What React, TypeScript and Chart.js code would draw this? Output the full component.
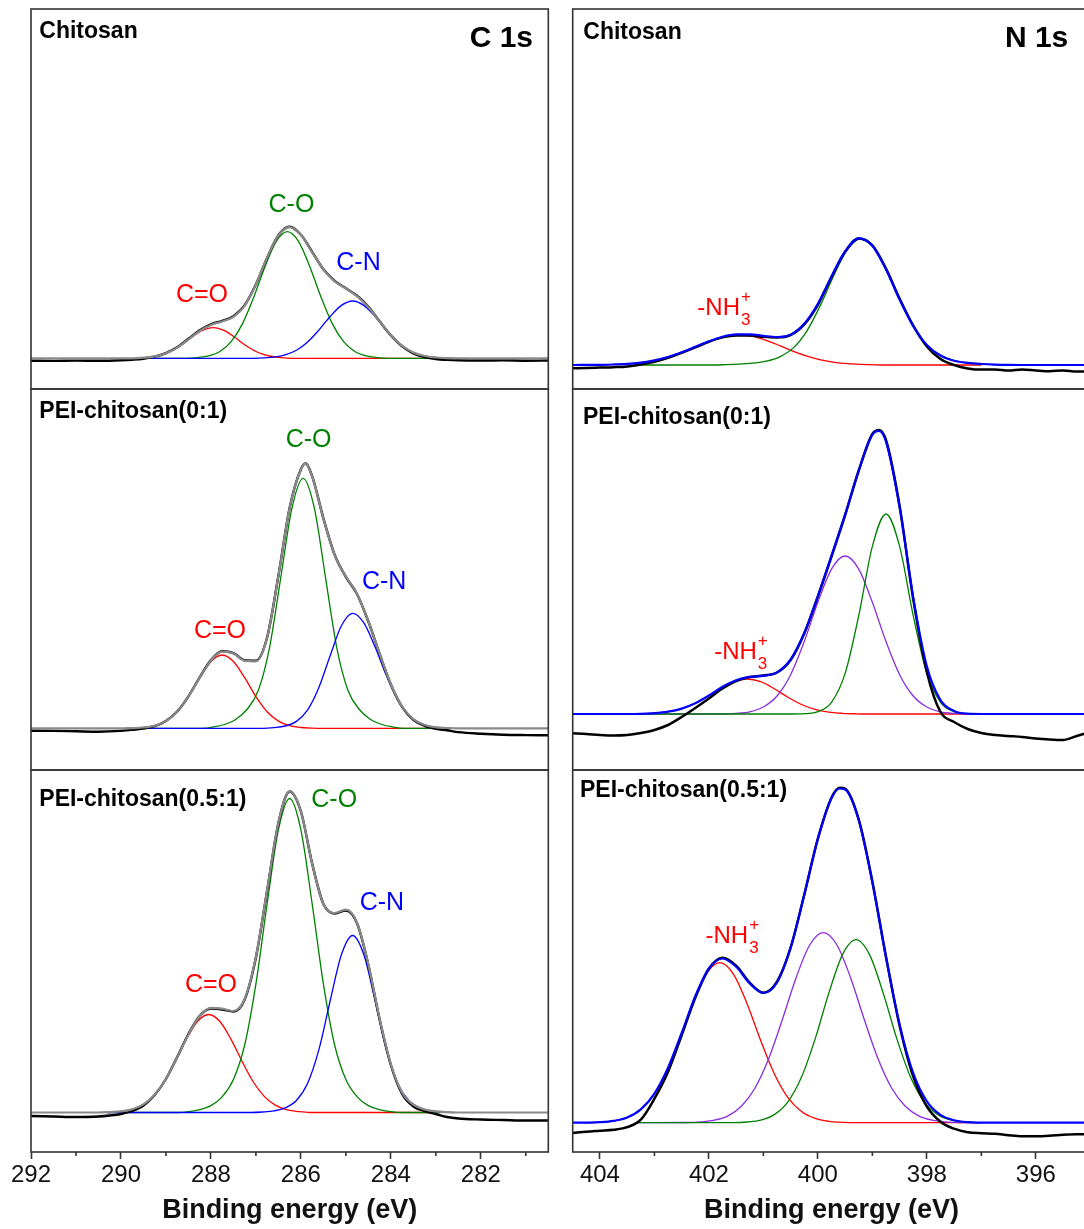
import React, { useEffect, useRef } from 'react';
import { Chart, registerables } from 'chart.js';

Chart.register(...registerables);

type P = [number, number][];

const FONT = '"Liberation Sans", Arial, Helvetica, sans-serif';

// ---------- axis ticks ----------
const cMinorTicks = [291, 289, 287, 285, 283, 281];
const nMinorTicks = [403, 401, 399, 397, 395];

// ---------- C 1s : Chitosan ----------
const c1CdO: P = [[289.6,0],[289.45,0.7],[289.2,2.3],[288.95,5.8],[288.7,12.1],[288.45,20.3],[288.2,27.6],[287.95,30.6],[287.7,27.6],[287.45,20.3],[287.2,12.1],[286.95,5.8],[286.7,2.3],[286.45,0.7],[286.2,0],[282.9,0]];
const c1CO: P = [[289.6,0],[288.55,0],[288.3,0.7],[288.05,2.4],[287.8,6.8],[287.55,16.6],[287.3,34.4],[287.05,60.9],[286.8,91.4],[286.55,116.7],[286.3,126.6],[286.05,116.7],[285.8,91.4],[285.55,60.9],[285.3,34.4],[285.05,16.6],[284.8,6.8],[284.55,2.4],[284.3,0.7],[284.05,0],[282.9,0]];
const c1CN: P = [[289.6,0],[287.1,0],[286.85,0.4],[286.6,1.2],[286.35,3.4],[286.1,8.0],[285.85,16.3],[285.6,28.2],[285.35,41.8],[285.1,52.9],[284.85,57.3],[284.6,52.9],[284.35,41.8],[284.1,28.2],[283.85,16.3],[283.6,8.0],[283.35,3.4],[283.1,1.2],[282.85,0.4],[282.6,0]];
const c1Fit: P = [[292,0],[289.75,0],[289.5,0.6],[289.25,1.9],[289.0,5.0],[288.75,10.7],[288.5,18.8],[288.25,27.3],[288.0,33.4],[287.75,36.8],[287.5,41.4],[287.25,52.7],[287.0,74.1],[286.75,100.7],[286.5,123.0],[286.25,131.3],[286.0,123.5],[285.75,106.0],[285.5,88.8],[285.25,77.0],[285.0,69.8],[284.75,62.2],[284.5,51.0],[284.25,36.9],[284.0,23.2],[283.75,12.5],[283.5,5.8],[283.25,2.3],[283.0,0.8],[282.75,0.2],[282.5,0],[280.5,0]];
const c1Raw: P = [[292,-2.4],[291.5,-2.6],[291,-2.3],[290.5,-2.5],[290,-2],[289.75,-1.4],[289.5,-0.4],[289.25,1.6],[289.0,5.2],[288.75,11],[288.5,19.5],[288.25,28],[288.0,34],[287.75,37.5],[287.5,42],[287.25,53],[287.0,74],[286.75,100.5],[286.5,123],[286.25,131.5],[286.0,123.5],[285.75,106.5],[285.5,89],[285.25,77.5],[285.0,70],[284.75,62.5],[284.5,51.5],[284.25,37],[284.0,23],[283.75,12],[283.5,5],[283.25,1.2],[283.0,-0.8],[282.75,-1.6],[282.5,-2],[282,-2.2],[281.5,-2.1],[281,-2.4],[280.5,-2.2]];

// ---------- C 1s : PEI-chitosan(0:1) ----------
const c2CdO: P = [[289.9,0],[289.75,0.3],[289.5,0.8],[289.25,2.6],[289.0,7.2],[288.75,16.6],[288.5,31.7],[288.25,50.6],[288.0,66.8],[287.75,73.3],[287.5,66.8],[287.25,50.6],[287.0,31.7],[286.75,16.6],[286.5,7.2],[286.25,2.6],[286.0,0.8],[285.75,0.2],[285.5,0],[283.0,0]];
const c2CO: P = [[289.9,0],[288.2,0],[287.95,1.3],[287.7,3.8],[287.45,8.8],[287.2,18.8],[286.95,37.5],[286.7,80],[286.45,150],[286.2,220],[285.95,250],[285.7,220],[285.45,150],[285.2,80],[284.95,37.5],[284.7,18.8],[284.45,8.8],[284.2,3.8],[283.95,1.3],[283.7,0],[283.0,0]];
const c2CN: P = [[289.9,0],[286.85,0],[286.6,0.7],[286.35,2.3],[286.1,6.9],[285.85,18.4],[285.6,40.8],[285.35,72.5],[285.1,102.5],[284.85,115],[284.6,105.5],[284.35,81.3],[284.1,52.7],[283.85,28.6],[283.6,13.1],[283.35,5.1],[283.1,1.6],[282.85,0.5],[282.6,0]];
const c2Fit: P = [[292,0],[290,0],[289.75,0.2],[289.5,0.8],[289.25,2.6],[289.0,7.2],[288.75,16.6],[288.5,31.8],[288.25,50.6],[288.0,67.9],[287.75,76.6],[287.5,74.8],[287.25,67.6],[287.0,66.9],[286.75,90.8],[286.5,152.4],[286.25,220.2],[286.0,258.8],[285.9,264.6],[285.75,251.9],[285.5,209.7],[285.25,173.5],[285.0,151.8],[284.75,134.4],[284.5,107.0],[284.25,74.6],[284.0,44.0],[283.75,21.8],[283.5,9.2],[283.25,3.3],[283.0,1.0],[282.75,0.3],[282.5,0],[280.5,0]];
const c2Raw: P = [[292,-2.4],[291.5,-2.6],[291,-3],[290.5,-3.4],[290,-2.6],[289.75,-1.6],[289.5,-0.2],[289.25,2.2],[289.0,7.4],[288.75,16.8],[288.5,32],[288.25,51],[288.0,68.2],[287.75,77],[287.5,75.2],[287.25,68],[287.0,67.5],[286.75,91],[286.5,152.5],[286.25,220.5],[286.0,259],[285.9,264.8],[285.75,252.2],[285.5,210],[285.25,173.5],[285.0,151.5],[284.75,134],[284.5,106.8],[284.25,74.4],[284.0,43.8],[283.75,21.4],[283.5,8.5],[283.25,2.5],[283.0,-0.5],[282.75,-2],[282.5,-3.8],[282,-5.4],[281.5,-6.4],[281,-6.8],[280.5,-7]];

// ---------- C 1s : PEI-chitosan(0.5:1) ----------
const c3CdO: P = [[290.3,0],[290.05,0.9],[289.8,2.6],[289.55,6.9],[289.3,15.4],[289.05,30.0],[288.8,50.4],[288.55,72.9],[288.3,91.0],[288.05,98],[287.8,91.0],[287.55,72.9],[287.3,50.4],[287.05,30.0],[286.8,15.4],[286.55,6.9],[286.3,2.6],[286.05,0.9],[285.8,0],[282.9,0]];
const c3CO: P = [[290.3,0],[288.75,0],[288.5,0.9],[288.25,2.8],[288.0,6.9],[287.75,15.7],[287.5,33.0],[287.25,67.5],[287.0,128.7],[286.75,208.8],[286.5,282.6],[286.25,314],[286.0,282.6],[285.75,208.8],[285.5,128.7],[285.25,67.5],[285.0,33.0],[284.75,15.7],[284.5,6.9],[284.25,2.8],[284.0,0.9],[283.75,0],[282.9,0]];
const c3CN: P = [[290.3,0],[287.1,0],[286.85,0.5],[286.6,1.6],[286.35,4.6],[286.1,12.0],[285.85,29.2],[285.6,62.8],[285.35,111.5],[285.1,157.7],[284.85,177],[284.6,157.7],[284.35,111.5],[284.1,62.8],[283.85,29.2],[283.6,12.0],[283.35,4.6],[283.1,1.6],[282.85,0.5],[282.6,0]];
const c3Fit: P = [[292,0],[290.5,0],[290.25,0.5],[290.0,1.1],[289.75,3.2],[289.5,8.1],[289.25,17.8],[289.0,33.7],[288.75,55.2],[288.5,78.0],[288.25,96.3],[288.0,104.6],[287.75,103.8],[287.5,101.5],[287.25,113.5],[287.0,155.6],[286.75,222.6],[286.5,289.8],[286.25,321.1],[286.0,301.0],[285.75,248.8],[285.5,208.5],[285.25,199.5],[285.0,202.8],[284.75,189.5],[284.5,148.0],[284.25,93.8],[284.0,48.4],[283.75,19.9],[283.5,7.8],[283.25,3.0],[283.0,1.2],[282.75,0.4],[282.5,0],[280.5,0]];
const c3Raw: P = [[292,-3.5],[291.5,-4],[291,-4.5],[290.5,-4],[290.25,-3],[290.0,-1.5],[289.75,1.5],[289.5,7],[289.25,17.5],[289.0,33.5],[288.75,55.5],[288.5,78.5],[288.25,96.5],[288.0,104],[287.75,103],[287.5,101],[287.25,113],[287.0,155],[286.75,222],[286.5,289.5],[286.25,321],[286.0,301],[285.75,249],[285.5,208.5],[285.25,199],[285.0,202],[284.75,189],[284.5,147.5],[284.25,93],[284.0,47.5],[283.75,18.5],[283.5,6],[283.25,1.5],[283.0,-1.5],[282.75,-4.5],[282.5,-6],[282,-7],[281.5,-7.5],[281,-8],[280.5,-8]];

// ---------- N 1s : Chitosan ----------
const n1NH3: P = [[404.2,0],[403.95,0.2],[403.7,0.6],[403.45,1.3],[403.2,2.7],[402.95,5.2],[402.7,8.9],[402.45,13.7],[402.2,19.4],[401.95,24.7],[401.7,28.6],[401.45,30],[401.2,28.6],[400.95,24.7],[400.7,19.4],[400.45,13.7],[400.2,8.9],[399.95,5.2],[399.7,2.7],[399.45,1.3],[399.2,0.6],[398.95,0.2],[398.7,0],[397.0,0]];
const n1NH2: P = [[403.3,0],[401.95,0],[401.7,0.3],[401.45,0.8],[401.2,1.8],[400.95,3.8],[400.7,8.2],[400.45,17.1],[400.2,34.2],[399.95,60.1],[399.7,90.4],[399.45,116.4],[399.2,126.5],[398.95,116.4],[398.7,90.4],[398.45,60.1],[398.2,34.2],[397.95,17.1],[397.7,8.2],[397.45,3.8],[397.2,1.8],[396.95,0.8],[396.7,0.3],[396.45,0]];
const n1Fit: P = [[404.5,0],[404.0,0.2],[403.75,0.5],[403.5,1.1],[403.25,2.4],[403.0,4.6],[402.75,8.0],[402.5,12.7],[402.25,18.2],[402.0,23.7],[401.75,28.3],[401.5,30.6],[401.25,30.7],[401.0,29.1],[400.75,28.0],[400.5,30.3],[400.25,41.2],[400.0,61.3],[399.75,88.6],[399.5,113.5],[399.25,126.7],[399.0,119.3],[398.75,95.7],[398.5,65.5],[398.25,39.0],[398.0,20.0],[397.75,9.5],[397.5,4.3],[397.25,2.1],[397.0,1.0],[396.75,0.4],[396.5,0.1],[396.25,0],[395,0]];
const n1Raw: P = [[404.5,-3.3],[404.25,-3],[404.0,-2.6],[403.75,-2.2],[403.5,-1.4],[403.25,0.6],[403.0,3.2],[402.75,7.2],[402.5,12.2],[402.25,17.6],[402.0,23.2],[401.75,27.6],[401.5,29.6],[401.25,29.6],[401.0,28.2],[400.75,27.6],[400.5,30],[400.25,40.6],[400.0,60.2],[399.75,88],[399.5,113.2],[399.25,126.6],[399.0,119.6],[398.75,96.4],[398.5,66.4],[398.25,39.4],[398.0,18.6],[397.75,6],[397.5,0],[397.25,-3.4],[397.0,-4.6],[396.75,-4.4],[396.5,-5.6],[396.25,-4.4],[396.0,-5.4],[395.75,-6.2],[395.5,-5.4],[395.25,-6.6],[395.0,-6.6]];

// ---------- N 1s : PEI-chitosan(0:1) ----------
const n2NH3: P = [[403.5,0],[403.3,0.2],[403.05,0.7],[402.8,1.9],[402.55,4.6],[402.3,9.5],[402.05,16.8],[401.8,25.3],[401.55,32.3],[401.3,35],[401.05,32.3],[400.8,25.3],[400.55,16.8],[400.3,9.5],[400.05,4.6],[399.8,1.9],[399.55,0.7],[399.3,0.2],[399.05,0],[397.0,0]];
const n2Mid: P = [[403.5,0],[401.75,0],[401.5,0.6],[401.25,2.2],[401.0,7.0],[400.75,18.0],[400.5,39.3],[400.25,72.4],[400.0,111.7],[399.75,144.9],[399.5,158],[399.25,144.9],[399.0,111.7],[398.75,72.4],[398.5,39.3],[398.25,18.0],[398.0,7.0],[397.75,2.2],[397.5,0.6],[397.25,0],[397.0,0]];
const n2Low: P = [[403.5,0],[400.5,0],[400.25,0.3],[400.0,2.4],[399.75,11.7],[399.5,40.6],[399.25,98.4],[399.0,167.6],[398.75,200],[398.5,167.6],[398.25,98.4],[398.0,40.6],[397.75,11.7],[397.5,2.4],[397.25,0.3],[397.0,0]];
const n2Fit: P = [[404.5,0],[403.5,0],[403.25,0.2],[403.0,0.8],[402.75,2.3],[402.5,5.4],[402.25,10.8],[402.0,18.5],[401.75,27.3],[401.5,33.8],[401.25,37.1],[401.0,38.2],[400.75,41.6],[400.5,54.5],[400.25,81.0],[400.0,118.0],[399.75,158.1],[399.5,199.1],[399.25,243.4],[399.0,279.3],[398.875,283.2],[398.75,272.4],[398.5,206.9],[398.25,116.4],[398.0,47.6],[397.75,13.9],[397.5,3.0],[397.25,0.3],[397.0,0],[395,0]];
const n2Raw: P = [[404.5,-19.3],[404.25,-20],[404.0,-21],[403.75,-21.5],[403.5,-21],[403.25,-19],[403.0,-16],[402.75,-11],[402.5,-3],[402.25,6],[402.0,15.5],[401.75,25.5],[401.5,33],[401.25,37],[401.0,38.5],[400.75,41.5],[400.5,54],[400.25,80.5],[400.0,117.5],[399.75,157.5],[399.5,199],[399.25,243.5],[399.0,280],[398.875,284],[398.75,274],[398.5,208],[398.25,115],[398.0,42],[397.75,2],[397.5,-8],[397.25,-15],[397.0,-19],[396.75,-21],[396.5,-22],[396.25,-23],[396.0,-24.5],[395.75,-25.5],[395.5,-26],[395.25,-22],[395.0,-18]];

// ---------- N 1s : PEI-chitosan(0.5:1) ----------
const n3NH3: P = [[404.3,0],[404.05,0.4],[403.8,1.4],[403.55,4.3],[403.3,11.2],[403.05,25.1],[402.8,49.0],[402.55,82.2],[402.3,119.0],[402.05,148.6],[401.8,160],[401.55,148.6],[401.3,119.0],[401.05,82.2],[400.8,49.0],[400.55,25.1],[400.3,11.2],[400.05,4.3],[399.8,1.4],[399.55,0.4],[399.3,0],[397.0,0]];
const n3Mid: P = [[403.3,0],[402.4,0.2],[402.15,0.8],[401.9,2.5],[401.65,6.9],[401.4,16.7],[401.15,35.0],[400.9,64.4],[400.65,103.4],[400.4,145.0],[400.15,177.7],[399.9,190],[399.65,177.7],[399.4,145.0],[399.15,103.4],[398.9,64.4],[398.65,35.0],[398.4,16.7],[398.15,6.9],[397.9,2.5],[397.65,0.8],[397.4,0.2],[397.0,0]];
const n3Low: P = [[403.3,0],[401.55,0],[401.3,0.7],[401.05,2.6],[400.8,8.1],[400.55,20.9],[400.3,45.6],[400.05,83.8],[399.8,129.4],[399.55,167.8],[399.3,183],[399.05,167.8],[398.8,129.4],[398.55,83.8],[398.3,45.6],[398.05,20.9],[397.8,8.1],[397.55,2.6],[397.3,0.7],[397.0,0]];
const n3Fit: P = [[404.5,0],[404.25,0.1],[404.0,0.5],[403.75,1.8],[403.5,5.2],[403.25,13.3],[403.0,29.1],[402.75,55.0],[402.5,89.7],[402.25,126.4],[402.0,154.2],[401.75,164.2],[401.5,155.9],[401.25,139.2],[401.0,129.7],[400.75,140.3],[400.5,175.2],[400.25,228.0],[400.0,284.0],[399.75,324.7],[399.6,334.2],[399.5,333.2],[399.25,302.7],[399.0,240.6],[398.75,165.6],[398.5,98.0],[398.25,49.5],[398.0,21.3],[397.75,7.8],[397.5,2.4],[397.25,0.5],[397.0,0.1],[396.75,0],[395,0]];
const n3Raw: P = [[404.5,-10.3],[404.25,-9],[404.0,-8],[403.75,-7],[403.5,-4.5],[403.25,3],[403.0,24],[402.75,51],[402.5,87.5],[402.25,125],[402.0,154],[401.75,165],[401.5,157],[401.25,140],[401.0,130],[400.75,141],[400.5,175],[400.25,228],[400.0,284],[399.75,325],[399.6,335],[399.5,334],[399.25,303],[399.0,241],[398.75,166],[398.5,97],[398.25,46],[398.0,16],[397.75,1],[397.5,-6],[397.25,-9.5],[397.0,-10.5],[396.75,-11],[396.5,-12.5],[396.25,-13.5],[396.0,-13.5],[395.75,-13],[395.5,-12],[395.25,-11.5],[395.0,-11.5]];

const RED = '#ff0000';
const GREEN = '#008000';
const BLUE = '#0000ff';
const PURPLE = '#8a2be2';
const GRAY = '#8a8a8a';

type Ann = { text: string; x: number; y: number; color: string; nh3?: boolean };

type Spec = {
  left: number; top: number; w: number; h: number;
  pad: { left: number; right: number; top: number; bottom: number };
  xMin: number; xMax: number; yMin: number; yMax: number;
  bottom: boolean; minor: number[];
  title: string; tdx: number; tdy: number;
  element?: string; edx?: number;
  series: { pts: P; color: string; width: number }[];
  anns: Ann[];
};

const LEFT_PAD = { left: 31, right: 11.7 };
const RIGHT_PAD = { left: 12.7, right: 9.7 };

function cSeries(fit: P, raw: P, cdo: P, co: P, cn: P) {
  return [
    { pts: fit, color: GRAY, width: 2.2 },
    { pts: raw, color: '#000000', width: 2.4 },
    { pts: cn, color: BLUE, width: 1.3 },
    { pts: co, color: GREEN, width: 1.3 },
    { pts: cdo, color: RED, width: 1.3 },
  ];
}

function nSeries(fit: P, raw: P, nh3: P, low: P, mid?: P) {
  const s = [
    { pts: fit, color: BLUE, width: 2.2 },
    { pts: raw, color: '#000000', width: 2.5 },
    { pts: low, color: GREEN, width: 1.3 },
  ];
  if (mid) s.push({ pts: mid, color: PURPLE, width: 1.3 });
  s.push({ pts: nh3, color: RED, width: 1.3 });
  return s;
}

const specs: Spec[] = [
  {
    left: 0, top: 0, w: 560, h: 392, pad: { ...LEFT_PAD, top: 9, bottom: 3 },
    xMin: 280.5, xMax: 292, yMin: -30.7, yMax: 349.3, bottom: false, minor: [],
    title: 'Chitosan', tdx: 8.3, tdy: 22.7, element: 'C 1s', edx: 15.3,
    series: cSeries(c1Fit, c1Raw, c1CdO, c1CO, c1CN),
    anns: [
      { text: 'C=O', x: 288.2, y: 63, color: RED },
      { text: 'C-O', x: 286.21, y: 153, color: GREEN },
      { text: 'C-N', x: 284.72, y: 95, color: BLUE },
    ],
  },
  {
    left: 0, top: 386, w: 560, h: 387, pad: { ...LEFT_PAD, top: 3, bottom: 3 },
    xMin: 280.5, xMax: 292, yMin: -41.7, yMax: 339.3, bottom: false, minor: [],
    title: 'PEI-chitosan(0:1)', tdx: 8.3, tdy: 23,
    series: cSeries(c2Fit, c2Raw, c2CdO, c2CO, c2CN),
    anns: [
      { text: 'C=O', x: 287.8, y: 97, color: RED },
      { text: 'C-O', x: 285.83, y: 288, color: GREEN },
      { text: 'C-N', x: 284.15, y: 146, color: BLUE },
    ],
  },
  {
    left: 0, top: 767, w: 560, h: 462, pad: { ...LEFT_PAD, top: 3, bottom: 2 },
    xMin: 280.5, xMax: 292, yMin: -39.5, yMax: 342.5, bottom: true, minor: cMinorTicks,
    title: 'PEI-chitosan(0.5:1)', tdx: 8.3, tdy: 30,
    series: cSeries(c3Fit, c3Raw, c3CdO, c3CO, c3CN),
    anns: [
      { text: 'C=O', x: 288.0, y: 127, color: RED },
      { text: 'C-O', x: 285.26, y: 312, color: GREEN },
      { text: 'C-N', x: 284.2, y: 209, color: BLUE },
    ],
  },
  {
    left: 560, top: 0, w: 540, h: 392, pad: { ...RIGHT_PAD, top: 9, bottom: 3 },
    xMin: 395, xMax: 404.5, yMin: -24, yMax: 356, bottom: false, minor: [],
    title: 'Chitosan', tdx: 10.6, tdy: 24, element: 'N 1s', edx: 22,
    series: nSeries(n1Fit, n1Raw, n1NH3, n1NH2),
    anns: [{ text: '-NH', x: 401.43, y: 57, color: RED, nh3: true }],
  },
  {
    left: 560, top: 386, w: 540, h: 387, pad: { ...RIGHT_PAD, top: 3, bottom: 3 },
    xMin: 395, xMax: 404.5, yMin: -56, yMax: 325, bottom: false, minor: [],
    title: 'PEI-chitosan(0:1)', tdx: 10.3, tdy: 29,
    series: nSeries(n2Fit, n2Raw, n2NH3, n2Low, n2Mid),
    anns: [{ text: '-NH', x: 401.12, y: 62, color: RED, nh3: true }],
  },
  {
    left: 560, top: 767, w: 540, h: 462, pad: { ...RIGHT_PAD, top: 3, bottom: 2 },
    xMin: 395, xMax: 404.5, yMin: -29.3, yMax: 352.7, bottom: true, minor: nMinorTicks,
    title: 'PEI-chitosan(0.5:1)', tdx: 7.3, tdy: 21,
    series: nSeries(n3Fit, n3Raw, n3NH3, n3Low, n3Mid),
    anns: [{ text: '-NH', x: 401.28, y: 186, color: RED, nh3: true }],
  },
];

function Panel({ spec }: { spec: Spec }) {
  const ref = useRef<HTMLCanvasElement>(null);
  useEffect(() => {
    const canvas = ref.current;
    if (!canvas) return;
    const deco = {
      id: 'panelDeco',
      afterDatasetsDraw(chart: any) {
        const { ctx, chartArea: a, scales } = chart;
        const sx = scales.x;
        const sy = scales.y;
        ctx.save();
        ctx.textBaseline = 'middle';
        for (const an of spec.anns) {
          const px = sx.getPixelForValue(an.x);
          const py = sy.getPixelForValue(an.y);
          ctx.fillStyle = an.color;
          if (an.nh3) {
            ctx.font = `24px ${FONT}`;
            ctx.textAlign = 'right';
            ctx.fillText(an.text, px, py);
            ctx.font = `17px ${FONT}`;
            ctx.textAlign = 'left';
            ctx.fillText('3', px + 1, py + 12);
            ctx.fillText('+', px + 1, py - 11);
          } else {
            ctx.font = `25px ${FONT}`;
            ctx.textAlign = 'center';
            ctx.fillText(an.text, px, py);
          }
        }
        ctx.fillStyle = '#000000';
        ctx.font = `bold 23px ${FONT}`;
        ctx.textAlign = 'left';
        ctx.fillText(spec.title, a.left + spec.tdx, a.top + spec.tdy);
        if (spec.element) {
          ctx.font = `bold 30px ${FONT}`;
          ctx.textAlign = 'right';
          ctx.fillText(spec.element, a.right - (spec.edx || 0), a.top + 30);
        }
        ctx.strokeStyle = '#333333';
        ctx.lineWidth = 1.6;
        ctx.strokeRect(a.left, a.top, a.right - a.left, a.bottom - a.top);
        for (const v of spec.minor) {
          const px = sx.getPixelForValue(v);
          if (px < a.left - 0.5 || px > a.right + 0.5) continue;
          ctx.beginPath();
          ctx.moveTo(px, a.bottom);
          ctx.lineTo(px, a.bottom + 4);
          ctx.stroke();
        }
        ctx.restore();
      },
    };
    const xScale: any = {
      type: 'linear',
      min: spec.xMin,
      max: spec.xMax,
      reverse: true,
      display: spec.bottom,
      border: { display: false },
      grid: { display: true, drawOnChartArea: false, drawTicks: true, tickLength: 7, tickWidth: 1.6, tickColor: '#333333' },
      ticks: {
        stepSize: 2,
        includeBounds: false,
        autoSkip: false,
        maxRotation: 0,
        padding: 2,
        color: '#111111',
        font: { family: FONT, size: 24 },
        callback: (v: any) => String(v),
      },
      title: {
        display: true,
        text: 'Binding energy (eV)',
        color: '#111111',
        font: { family: FONT, size: 27, weight: 'bold' },
        padding: { top: 0, bottom: 0 },
      },
    };
    if (spec.bottom) {
      xScale.afterFit = (s: any) => { s.height = 75; };
    }
    const chart = new Chart(canvas, {
      type: 'line',
      data: {
        datasets: spec.series.map((s) => ({
          data: s.pts.map(([x, y]) => ({ x, y })),
          borderColor: s.color,
          backgroundColor: s.color,
          borderWidth: s.width,
          pointRadius: 0,
          fill: false,
          tension: 0,
          cubicInterpolationMode: 'monotone' as const,
        })),
      },
      options: {
        responsive: false,
        animation: false,
        events: [],
        layout: { padding: spec.pad },
        plugins: { legend: { display: false }, tooltip: { enabled: false } },
        scales: {
          x: xScale,
          y: { type: 'linear', display: false, min: spec.yMin, max: spec.yMax },
        },
      },
      plugins: [deco],
    } as any);
    return () => chart.destroy();
  }, [spec]);
  return (
    <canvas
      ref={ref}
      width={spec.w}
      height={spec.h}
      style={{ position: 'absolute', left: spec.left, top: spec.top, width: spec.w, height: spec.h }}
    />
  );
}

export default function App() {
  return (
    <div style={{ position: 'absolute', left: 0, top: 0, width: 1084, height: 1229, overflow: 'hidden', background: '#ffffff' }}>
      {specs.map((s, i) => (
        <Panel key={i} spec={s} />
      ))}
    </div>
  );
}
